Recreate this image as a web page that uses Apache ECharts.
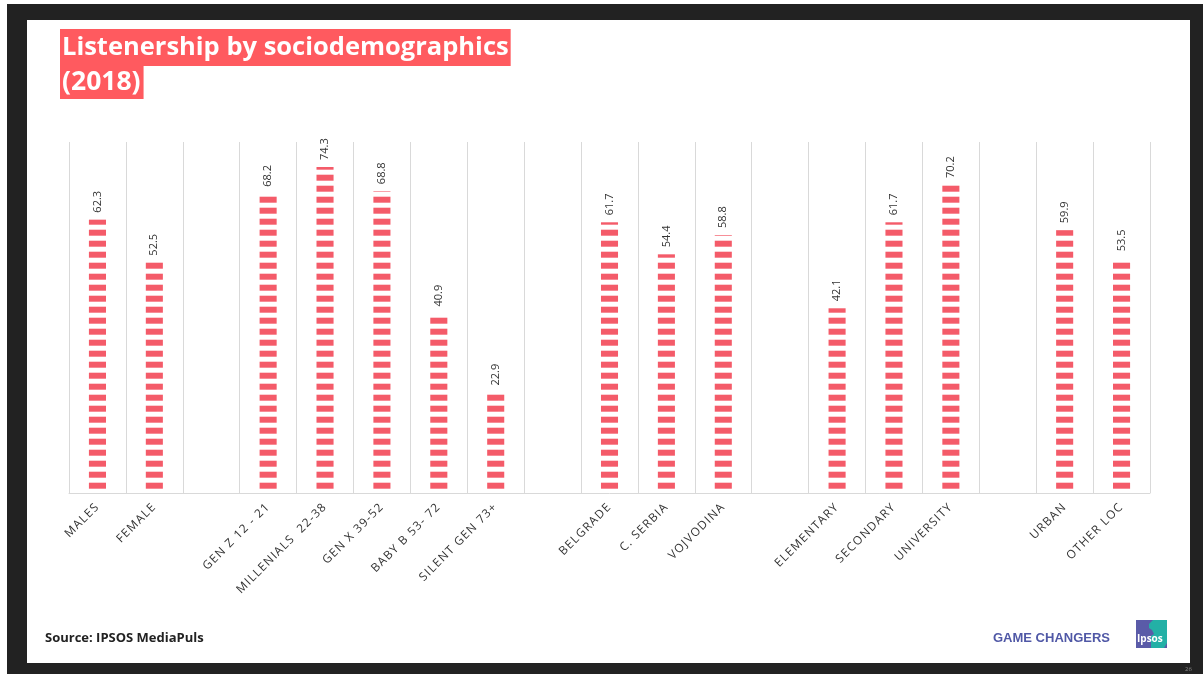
<!DOCTYPE html>
<html>
<head>
<meta charset="utf-8">
<script src="https://cdn.jsdelivr.net/npm/echarts@6/dist/echarts.min.js"></script>
<style>
html,body{margin:0;padding:0;background:#fff;}
#c{width:1203px;height:674px;}
</style>
</head>
<body>
<div id="c"></div>
<script>
const categories = ['MALES','FEMALE','','GEN Z 12 - 21','MILLENIALS  22-38','GEN X 39-52','BABY B 53- 72','SILENT GEN 73+','','BELGRADE','C. SERBIA','VOJVODINA','','ELEMENTARY','SECONDARY','UNIVERSITY','','URBAN','OTHER LOC'];
const listenership = [62.3,52.5,null,68.2,74.3,68.8,40.9,22.9,null,61.7,54.4,58.8,null,42.1,61.7,70.2,null,59.9,53.5];
const titleLine1 = 'Listenership by sociodemographics';
const titleLine2 = '(2018)';
const sourceText = 'Source: IPSOS MediaPuls';
const brandText = 'GAME CHANGERS';

// letter spacing for the category labels (font size 11.8px used only there)
(function(){
  const P = CanvasRenderingContext2D.prototype;
  if (!('letterSpacing' in P)) return;
  const fill = P.fillText, meas = P.measureText;
  const ls = ctx => { ctx.letterSpacing = /11\.8px/.test(ctx.font) ? '1.2px' : '0px'; };
  P.fillText = function(t, x, y, m){ ls(this); return m === undefined ? fill.call(this, t, x, y) : fill.call(this, t, x, y, m); };
  P.measureText = function(t){ ls(this); return meas.call(this, t); };
})();

const barColor = '#F45B69';
const stripeH = 6, stripePeriod = 11, stripeStart = 4.3, barFrac = 0.3;

function renderStripes(params, api) {
  const v = api.value(1);
  if (v == null || isNaN(v)) return null;
  const base = api.coord([api.value(0), 0]);
  const top = api.coord([api.value(0), v]);
  const w = api.size([1, 0])[0] * barFrac;
  const children = [];
  for (let b = base[1] - stripeStart; b > top[1]; b -= stripePeriod) {
    const t = Math.max(b - stripeH, top[1]);
    children.push({type: 'rect', shape: {x: base[0] - w / 2, y: t, width: w, height: b - t}, style: {fill: barColor}});
  }
  return {type: 'group', children};
}

const chart = echarts.init(document.getElementById('c'));
const dark = '#222222';
const option = {
  animation: false,
  backgroundColor: '#ffffff',
  title: [
    {text: titleLine1, left: 60, top: 29, padding: [2,2,2,2], backgroundColor: '#FF5A5F',
     textStyle: {color:'#fff', fontFamily:'Open Sans', fontWeight:'bold', fontSize:25.5, lineHeight:33}},
    {text: titleLine2, left: 60, top: 66, padding: [0,3,0,2], backgroundColor: '#FF5A5F',
     textStyle: {color:'#fff', fontFamily:'Open Sans', fontWeight:'bold', fontSize:26.5, lineHeight:33}}
  ],
  grid: {left: 69, right: 53, top: 142, bottom: 181, containLabel: false},
  xAxis: {
    type: 'category',
    data: categories,
    axisLine: {show: true, lineStyle: {color: '#D9D9D9', width: 1}},
    axisTick: {show: false},
    splitLine: {show: true, interval: 0, lineStyle: {color: '#D9D9D9', width: 1}},
    axisLabel: {interval: 0, rotate: 45, margin: 12, color: '#333', fontFamily: 'Open Sans', fontSize: 11.8}
  },
  yAxis: {
    type: 'value', min: 0, max: 80,
    show: false,
    splitLine: {show: false}
  },
  series: [{
    type: 'custom',
    renderItem: renderStripes,
    data: listenership.map((v, i) => [i, v]).filter(d => d[1] != null),
    encode: {x: 0, y: 1},
    z: 3
  }, {
    type: 'bar',
    data: listenership,
    barWidth: 17,
    itemStyle: {color: 'rgba(0,0,0,0)'},
    silent: true,
    z: 1,
    label: {
      show: true, position: 'top', rotate: 90, distance: 7,
      align: 'left', verticalAlign: 'middle',
      color: '#333', fontFamily: 'Open Sans', fontSize: 11,
      formatter: p => p.value == null ? '' : Number(p.value).toFixed(1)
    }
  }],
  graphic: [
    {type:'rect', shape:{x:7,y:4,width:1196,height:16}, style:{fill:dark}, silent:true},
    {type:'rect', shape:{x:7,y:4,width:20,height:670}, style:{fill:dark}, silent:true},
    {type:'rect', shape:{x:1190,y:4,width:13,height:670}, style:{fill:dark}, silent:true},
    {type:'rect', shape:{x:7,y:663,width:1196,height:11}, style:{fill:dark}, silent:true},
    {type:'text', left: 45, top: 632, style:{text: sourceText, fill:'#222', font:'bold 13px "Open Sans"'}},
    {type:'text', left: 993, top: 632, style:{text: brandText, fill:'#5058A6', font:'bold 13px "Liberation Sans"'}},
    {type:'rect', shape:{x:1136,y:620,width:31,height:28}, style:{fill:'#5A5BA8'}},
    {type:'polygon', shape:{points:[[1153,620],[1167,620],[1167,643],[1164,648],[1151,648],[1151,636],[1154,634],[1152,630],[1149,628],[1149,624]]}, style:{fill:'#23B0A6'}},
    {type:'text', left: 1137, top: 634, style:{text:'Ipsos', fill:'#fff', font:'bold 10px "Open Sans"'}},
    {type:'text', left: 1185, top: 666, style:{text:'26', fill:'#888', font:'6px "Open Sans"'}}
  ]
};
chart.setOption(option);
</script>
</body>
</html>
